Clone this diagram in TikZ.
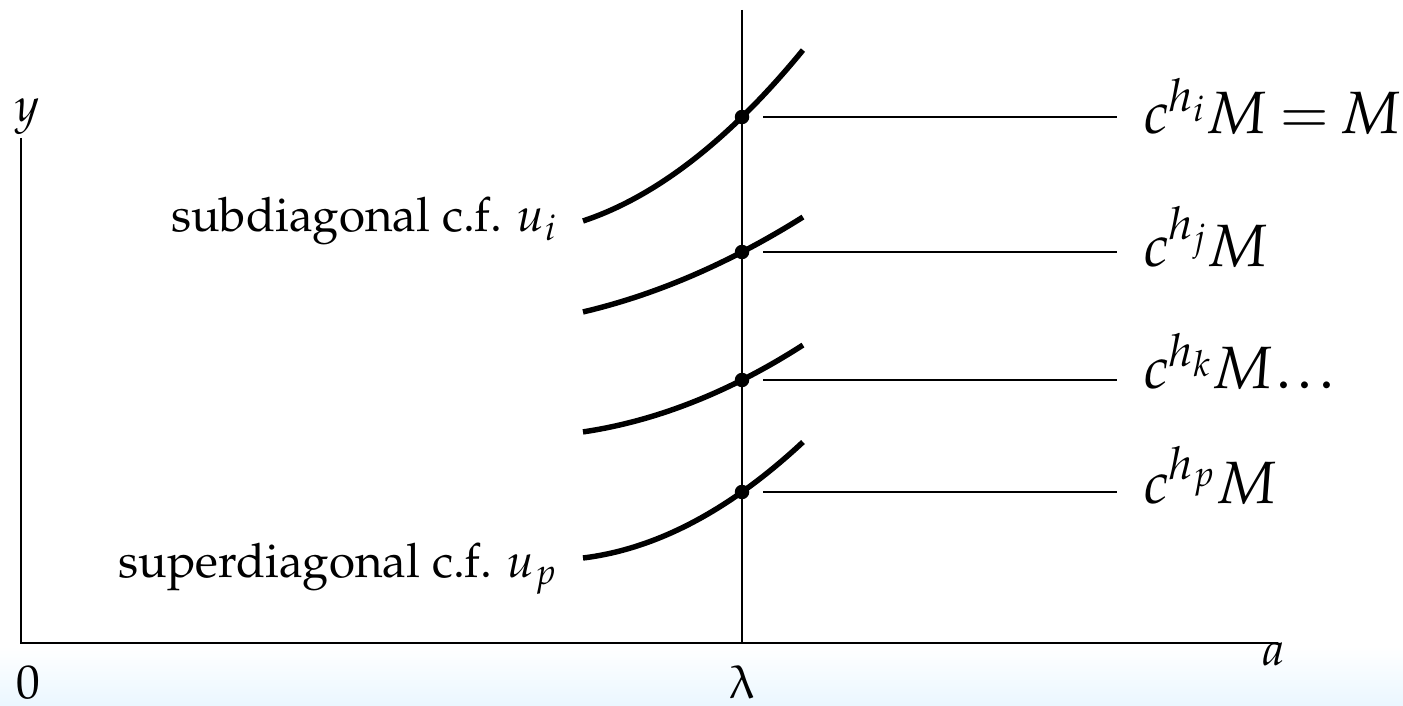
\documentclass[tikz,border=0pt]{standalone}
\usepackage[T1]{fontenc}
\usepackage{mathpazo}
\usepackage{upgreek}
\begin{document}
\begin{tikzpicture}[x=0.02cm,y=-0.02cm,
  axis/.style={line width=1.1pt},
  vline/.style={line width=1pt},
  curve/.style={line width=3.1pt},
  level/.style={line width=1.1pt},
  dotmark/.style={circle,fill=black,inner sep=0pt,minimum size=0.29cm},
  lab/.style={inner sep=0pt,font=\fontsize{27}{32}\selectfont},
  rlab/.style={inner sep=0pt,font=\fontsize{34}{40}\selectfont,anchor=base west}]
\useasboundingbox (0,0) rectangle (1403,706);
\shade[top color=white, bottom color=blue!40!cyan!8, draw=none] (0,646) rectangle (1403,706);
% axes
\coordinate (O) at (21,643);
\coordinate (ytop) at (21,138);
\coordinate (xend) at (1278,643);
\coordinate (ltop) at (742,10);
\coordinate (lbot) at (742,643);
\draw[axis] (ytop) -- (O) -- (xend);
\draw[vline] (ltop) -- (lbot);
% curves
\draw[curve] plot[domain=-1.59:0.61,samples=40,smooth] ({742+100*\x},{117-(97.5*\x+20.19*\x*\x)});
\draw[curve] plot[domain=-1.59:0.61,samples=40,smooth] ({742+100*\x},{252-(51.9*\x+8.93*\x*\x)});
\draw[curve] plot[domain=-1.59:0.61,samples=40,smooth] ({742+100*\x},{380-(50.5*\x+11.22*\x*\x)});
\draw[curve] plot[domain=-1.59:0.61,samples=40,smooth] ({742+100*\x},{492-(70.75*\x+18.39*\x*\x)});
% dots
\node[dotmark] (d1) at (742,117) {};
\node[dotmark] (d2) at (742,252) {};
\node[dotmark] (d3) at (742,380) {};
\node[dotmark] (d4) at (742,492) {};
% level lines
\foreach \i/\yy in {1/117,2/252,3/380,4/492}{
  \coordinate (h\i a) at (763,\yy);
  \coordinate (h\i b) at (1117,\yy);
  \draw[level] (h\i a) -- (h\i b);
}
% right labels
\node[rlab] (L1) at (1143,133) {$c^{h_i}M\mkern4mu{=}\mkern3mu M$};
\node[rlab] (L2) at (1143,266) {$c^{h_j}M$};
\node[rlab] (L3) at (1143,388) {$c^{h_k}M\mkern1mu.\mkern2mu.\mkern2mu.$};
\node[rlab] (L4) at (1143,503) {$c^{h_p}M$};
% left labels
\node[lab,anchor=base east] (sub) at (557,231) {subdiagonal c.f. $u_i$};
\node[lab,anchor=base east] (sup) at (557,577) {superdiagonal c.f. $u_p$};
% axis labels
\node[lab,anchor=base west] (ylab) at (15,122) {$y$};
\node[lab,anchor=base west] (zero) at (16,698) {0};
\node[lab,anchor=base] (lam) at (742,698) {$\uplambda$};
\node[lab,anchor=base west] (alab) at (1262,665) {$a$};
\end{tikzpicture}
\end{document}
